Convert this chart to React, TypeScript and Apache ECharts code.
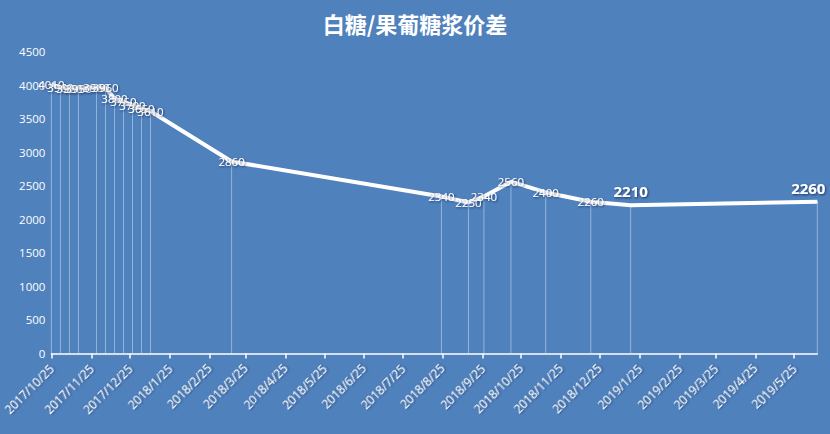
import React, { useEffect, useRef } from "react";
import * as echarts from "echarts";

const dates = [
  "2017/10/25", "2017/11/1", "2017/11/8", "2017/11/15", "2017/11/29",
  "2017/12/6", "2017/12/13", "2017/12/20", "2017/12/27", "2018/1/3",
  "2018/1/10", "2018/3/14", "2018/8/24", "2018/9/14", "2018/9/26",
  "2018/10/17", "2018/11/13", "2018/12/18", "2019/1/18", "2019/6/12",
];
const values = [
  4010, 3960, 3950, 3950, 3960,
  3960, 3800, 3750, 3700, 3650,
  3610, 2860, 2340, 2250, 2340,
  2560, 2400, 2260, 2210, 2260,
];
const tickDates = [
  "2017/10/25", "2017/11/25", "2017/12/25", "2018/1/25", "2018/2/25",
  "2018/3/25", "2018/4/25", "2018/5/25", "2018/6/25", "2018/7/25",
  "2018/8/25", "2018/9/25", "2018/10/25", "2018/11/25", "2018/12/25",
  "2019/1/25", "2019/2/25", "2019/3/25", "2019/4/25", "2019/5/25",
];
const bigLabelDates = ["2019/1/18", "2019/6/12"];
const title = "白糖/果葡糖浆价差";

const toTs = (s: string) => {
  const [y, m, d] = s.split("/").map(Number);
  return Date.UTC(y, m - 1, d);
};
const fmt = (t: number) => {
  const d = new Date(t);
  return `${d.getUTCFullYear()}/${d.getUTCMonth() + 1}/${d.getUTCDate()}`;
};

export default function App() {
  const ref = useRef<HTMLDivElement>(null);
  useEffect(() => {
    document.body.style.margin = "0";
    if (!ref.current) return;
    const chart = echarts.init(ref.current, undefined, { renderer: "svg" });
    const ticks = tickDates.map(toTs);
    const last = dates[dates.length - 1];
    const lineData = dates.map((d, i) => {
      const big = bigLabelDates.includes(d);
      return {
        value: [toTs(d), values[i]],
        label: big
          ? {
              position: "top",
              fontSize: 15,
              fontWeight: "bold",
              distance: 6,
              offset: d === last ? [-9, 0] : [0, 0],
            }
          : undefined,
      };
    });
    chart.setOption({
      animation: false,
      backgroundColor: "#4f81bd",
      title: {
        text: title,
        left: "center",
        top: 7,
        textStyle: {
          color: "#ffffff",
          fontSize: 22,
          fontWeight: "bold",
          fontFamily: "Noto Sans CJK SC",
        },
      },
      grid: { left: 48.7, right: 12.7, top: 51.5, bottom: 80.5, containLabel: false },
      xAxis: {
        type: "value",
        min: toTs(dates[0]),
        max: toTs(last),
        splitLine: { show: false },
        axisLine: { show: true, lineStyle: { color: "#ffffff", width: 1.5 } },
        axisTick: {
          show: true,
          customValues: ticks,
          length: 5,
          inside: false,
          lineStyle: { color: "#ffffff", width: 1.5 },
        },
        axisLabel: {
          customValues: ticks,
          rotate: 45,
          color: "#ffffff",
          fontSize: 12,
          fontFamily: "Open Sans",
          margin: 13,
          formatter: (v: number) => fmt(v),
          textShadowColor: "rgba(0,0,40,0.5)",
          textShadowBlur: 2,
          textShadowOffsetX: 1,
          textShadowOffsetY: 1,
        },
      },
      yAxis: {
        type: "value",
        min: 0,
        max: 4500,
        interval: 500,
        splitLine: { show: false },
        axisLine: { show: false },
        axisTick: { show: false },
        axisLabel: {
          color: "#ffffff",
          fontSize: 11.5,
          fontFamily: "Open Sans",
          margin: 6,
          formatter: (v: number) => String(v),
        },
      },
      series: [
        {
          type: "bar",
          barWidth: 1,
          z: 1,
          silent: true,
          itemStyle: { color: "rgba(220,232,250,0.5)" },
          data: dates.map((d, i) => [toTs(d), values[i]]),
        },
        {
          type: "line",
          z: 3,
          symbol: "circle",
          symbolSize: 1,
          itemStyle: { color: "#ffffff" },
          lineStyle: { color: "#ffffff", width: 4 },
          label: {
            show: true,
            position: "inside",
            color: "#ffffff",
            fontSize: 11.5,
            fontFamily: "Open Sans",
            textShadowColor: "rgba(0,0,40,0.6)",
            textShadowBlur: 2,
            textShadowOffsetX: 1,
            textShadowOffsetY: 1,
          },
          data: lineData,
        },
      ],
    });
    return () => chart.dispose();
  }, []);
  return <div ref={ref} style={{ width: 830, height: 434 }} />;
}
